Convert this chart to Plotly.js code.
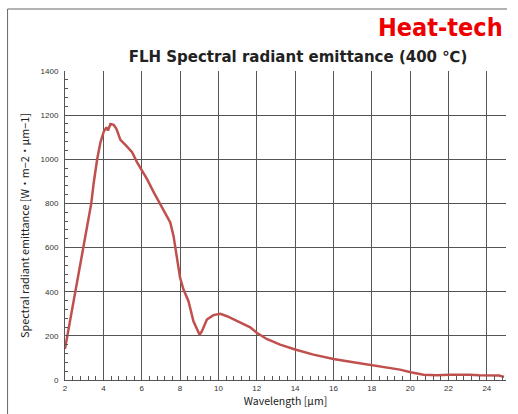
<!DOCTYPE html>
<html>
<head>
<meta charset="utf-8">
<script src="https://cdn.plot.ly/plotly-3.0.1.min.js"></script>
<style>html,body{margin:0;padding:0;background:#fff;}#chart{width:518px;height:414px;}</style>
</head>
<body>
<div id="chart"></div>
<script>
var wavelength = [2.0, 2.15, 2.55, 2.9, 3.16, 3.37, 3.5, 3.68, 3.85, 4.02, 4.16, 4.24, 4.37, 4.54, 4.68, 4.89, 5.15, 5.5, 5.76, 6.02, 6.28, 6.63, 6.94, 7.14, 7.49, 7.66, 7.83, 8.0, 8.18, 8.44, 8.7, 9.02, 9.14, 9.4, 9.74, 10.1, 10.45, 10.97, 11.66, 12.0, 12.52, 13.22, 14.0, 14.96, 16.0, 17.04, 18.0, 18.77, 19.47, 20.03, 20.7, 21.39, 22.05, 23.1, 23.6, 24.64, 24.9];
var emittance = [141, 214, 395, 577, 698, 800, 895, 1001, 1077, 1125, 1145, 1130, 1160, 1156, 1138, 1088, 1065, 1032, 986, 948, 910, 850, 800, 767, 714, 653, 562, 464, 410, 357, 266, 205, 221, 274, 294, 300, 289, 266, 239, 214, 186, 160, 138, 115, 95, 80, 68, 59, 47, 35, 24, 21, 24, 24, 21, 20, 14];
var xTickVals = [2, 4, 6, 8, 10, 12, 14, 16, 18, 20, 22, 24];
var yTickVals = [0, 200, 400, 600, 800, 1000, 1200, 1400];

var trace = {
  x: wavelength, y: emittance, type: 'scatter', mode: 'lines',
  line: {color: '#c0504d', width: 2.5}, hoverinfo: 'skip'
};
var L = 64.5, R = 12, T = 71, B = 34, W = 518, H = 414;
var pw = W - L - R, ph = H - T - B;
function px(x){ return (x - L) / pw; }
function py(y){ return (H - B - y) / ph; }

var layout = {
  width: W, height: H,
  margin: {l: L, r: R, t: T, b: B, pad: 0},
  paper_bgcolor: '#fff', plot_bgcolor: '#fff',
  showlegend: false,
  font: {family: 'Liberation Sans, Arial, sans-serif', color: '#333'},
  title: {
    text: '<b>FLH Spectral radiant emittance (400 ℃)</b>',
    font: {family: 'DejaVu Sans, sans-serif', size: 15, color: '#222'},
    x: 298 / W, xref: 'container', xanchor: 'center',
    y: 1 - 57 / H, yref: 'container', yanchor: 'middle'
  },
  xaxis: {
    range: [2, 25], tickmode: 'array', tickvals: xTickVals,
    showgrid: true, gridcolor: '#555', gridwidth: 1,
    zeroline: false, showline: true, linecolor: '#555', linewidth: 1,
    ticks: 'inside', ticklen: 4, tickcolor: '#555',
    minor: {dtick: 0.4, tick0: 2, ticks: 'inside', ticklen: 4, tickcolor: '#555', showgrid: false},
    tickfont: {size: 8, color: '#333'},
    title: {text: 'Wavelength [μm]', font: {size: 10.5, color: '#222', family: 'Noto Sans CJK JP, sans-serif'}, standoff: 6},
    fixedrange: true
  },
  yaxis: {
    range: [0, 1400], tickmode: 'array', tickvals: yTickVals,
    showgrid: true, gridcolor: '#555', gridwidth: 1,
    zeroline: false, showline: true, linecolor: '#555', linewidth: 1,
    ticks: 'inside', ticklen: 4, tickcolor: '#555',
    minor: {dtick: 40, tick0: 0, ticks: 'inside', ticklen: 3, tickcolor: '#555', showgrid: false},
    tickfont: {size: 8, color: '#333'},
    ticklabelstandoff: 4,
    title: {text: 'Spectral radiant emittance [W・m−2・μm−1]', font: {size: 10.8, color: '#222', family: 'Noto Sans CJK JP, sans-serif'}, standoff: 8},
    fixedrange: true
  },
  annotations: [{
    text: '<b>Heat-tech</b>', xref: 'paper', yref: 'paper',
    x: px(505), y: py(28), xanchor: 'right', yanchor: 'middle', showarrow: false,
    font: {family: 'DejaVu Sans Condensed, Liberation Sans Narrow, sans-serif', size: 25, color: '#ee0000'}
  }],
  shapes: [
    {type: 'line', xref: 'paper', yref: 'paper', x0: px(7), x1: px(507), y0: py(9), y1: py(9), line: {color: '#666', width: 1}},
    {type: 'line', xref: 'paper', yref: 'paper', x0: px(7), x1: px(7), y0: py(9), y1: py(420), line: {color: '#666', width: 1}}
  ]
};
Plotly.newPlot('chart', [trace], layout, {displayModeBar: false, staticPlot: true});
</script>
</body>
</html>
